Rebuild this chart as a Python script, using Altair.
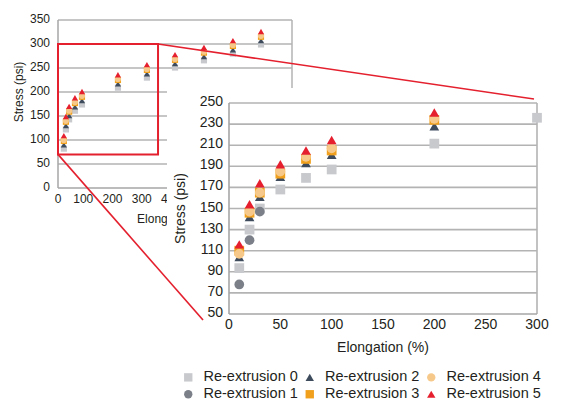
import altair as alt
import pandas as pd

FONT = "Liberation Sans"
TXT = "#231f20"

SERIES = ["Re-extrusion 0", "Re-extrusion 1", "Re-extrusion 2",
          "Re-extrusion 3", "Re-extrusion 4", "Re-extrusion 5"]
COLORS = ["#c8c9cd", "#7a7f88", "#3d4b5c", "#f0a01c", "#f6c98a", "#e61f2e"]
SHAPES = ["square", "circle", "triangle-up", "square", "circle", "triangle-up"]
LEGEND_ORDER = [0, 2, 4, 1, 3, 5]

# ---- overview chart (background) ----
BG_X = [20, 27, 38, 58, 82, 205, 304, 400, 499, 598, 694]
BG_S0 = [82, 122, 143, 161, 174, 209, 230, 251, 266, 280, 299]
BG_S2 = [90, 130, 151, 169, 182, 217, 238, 259, 274, 288, 307]
BG_S3 = [98, 138, 159, 177, 190, 225, 246, 267, 282, 296, 315]
BG_S4 = [100, 140, 161, 179, 192, 227, 248, 269, 284, 298, 317]
BG_S5 = [109, 149, 170, 188, 201, 236, 257, 278, 293, 307, 326]
BG_XTICKS = [0, 100, 200, 300, 400, 500, 600, 700, 800]
BG_YTICKS = [0, 50, 100, 150, 200, 250, 300, 350]
ZOOM_X = [0, 342]
ZOOM_Y = [70, 300]

# ---- zoomed chart (foreground) ----
FG_X = [10, 20, 30, 50, 75, 100, 200, 300]
FG_S0 = [93.5, 130, 150, 168, 179, 187, 211.5, 236]
FG_S1 = [78, 120, 147]
FG_S2 = [104, 142, 161, 180, 193, 201, 228]
FG_S3 = [110, 146, 165, 183, 197, 205, 234]
FG_S4 = [107, 147, 165, 185, 199, 207, 235]
FG_S5 = [116, 154, 174, 192, 205, 215, 241]
FG_XTICKS = [0, 50, 100, 150, 200, 250, 300]
FG_YTICKS = [50, 70, 90, 110, 130, 150, 170, 190, 210, 230, 250]

X_TITLE = "Elongation (%)"
Y_TITLE = "Stress (psi)"

# layout (pixel ranges inside the view)
W, H = 548, 392
BG_XR, BG_YR = [50, 284], [180, 12]
FG_XR, FG_YR = [221, 529], [306, 95]

fg_pairs = [(0, FG_S0), (1, FG_S1), (2, FG_S2), (3, FG_S3), (4, FG_S4), (5, FG_S5)]
bg_pairs = [(0, BG_S0), (2, BG_S2), (3, BG_S3), (4, BG_S4), (5, BG_S5)]


def frame(pairs, xs):
    rows = []
    for k, vals in pairs:
        for x, v in zip(xs, vals):
            rows.append({"x": x, "y": v, "series": SERIES[k], "k": k})
    return pd.DataFrame(rows)


fg_df = frame(fg_pairs, FG_X)
bg_df = frame(bg_pairs, BG_X)

bgx = alt.Scale(domain=[0, 800], range=BG_XR, nice=False, zero=False)
bgy = alt.Scale(domain=[0, 350], range=BG_YR, nice=False, zero=False)
fgx = alt.Scale(domain=[0, 300], range=FG_XR, nice=False, zero=False)
fgy = alt.Scale(domain=[50, 250], range=FG_YR, nice=False, zero=False)

color_scale = alt.Scale(domain=[SERIES[i] for i in LEGEND_ORDER],
                        range=[COLORS[i] for i in LEGEND_ORDER])
shape_scale = alt.Scale(domain=[SERIES[i] for i in LEGEND_ORDER],
                        range=[SHAPES[i] for i in LEGEND_ORDER])
legend = alt.Legend(orient="none", legendX=173, legendY=362, direction="horizontal",
                    columns=3, title=None, labelFontSize=14.5, labelFont=FONT,
                    labelColor=TXT, symbolSize=70, symbolStrokeWidth=0,
                    labelOffset=8, columnPadding=4.5, rowPadding=2, padding=0)

GRID = "#b3b3b3"
AX = "#a6a6a6"
RED = "#e4202e"


def one():
    return pd.DataFrame({"a": [0]})


def hgrid(vals, xs, ys, x0, x1, width):
    return alt.Chart(pd.DataFrame({"v": vals})).mark_rule(
        color=GRID, strokeWidth=width).encode(
        y=alt.Y("v:Q", scale=ys, axis=None),
        x=alt.X(datum=x0, scale=xs, axis=None), x2=alt.X2(datum=x1))


def vline(xs, ys, xv, y0, y1, color, width):
    return alt.Chart(one()).mark_rule(color=color, strokeWidth=width).encode(
        x=alt.X(datum=xv, scale=xs, axis=None),
        y=alt.Y(datum=y0, scale=ys, axis=None), y2=alt.Y2(datum=y1))


def hline(xs, ys, yv, x0, x1, color, width):
    return alt.Chart(one()).mark_rule(color=color, strokeWidth=width).encode(
        y=alt.Y(datum=yv, scale=ys, axis=None),
        x=alt.X(datum=x0, scale=xs, axis=None), x2=alt.X2(datum=x1))


def ylabels(vals, xs, ys, x0, size, pad):
    return alt.Chart(pd.DataFrame({"v": vals})).mark_text(
        align="right", baseline="middle", dx=-pad, dy=-1, fontSize=size,
        font=FONT, color=TXT).encode(
        x=alt.X(datum=x0, scale=xs, axis=None),
        y=alt.Y("v:Q", scale=ys, axis=None), text="v:Q")


def xlabels(vals, xs, ys, y0, size, pad, shift=0):
    return alt.Chart(pd.DataFrame({"v": vals})).mark_text(
        align="center", baseline="top", dy=pad, dx=shift, fontSize=size,
        font=FONT, color=TXT).encode(
        y=alt.Y(datum=y0, scale=ys, axis=None),
        x=alt.X("v:Q", scale=xs, axis=None), text="v:Q")


def points(df, xs, ys, size):
    return alt.Chart(df).mark_point(filled=True, opacity=1, size=size).encode(
        x=alt.X("x:Q", scale=xs, axis=None),
        y=alt.Y("y:Q", scale=ys, axis=None),
        color=alt.Color("series:N", scale=color_scale, legend=legend),
        shape=alt.Shape("series:N", scale=shape_scale, legend=legend),
        order=alt.Order("k:Q"))


# ---------- background (overview) ----------
bg_xtitle = alt.Chart(one()).mark_text(fontSize=12, font=FONT, color=TXT,
                                       baseline="middle", dy=31).encode(
    x=alt.X(datum=405, scale=bgx, axis=None), y=alt.Y(datum=0, scale=bgy, axis=None),
    text=alt.value(X_TITLE))
bg_ytitle = alt.Chart(one()).mark_text(fontSize=12, font=FONT, color=TXT,
                                       baseline="middle", angle=270).encode(
    x=alt.value(11), y=alt.Y(datum=200, scale=bgy, axis=None),
    text=alt.value(Y_TITLE))
bg_rect = alt.Chart(pd.DataFrame({"x": [ZOOM_X[0]], "x2": [ZOOM_X[1]],
                                  "y": [ZOOM_Y[0]], "y2": [ZOOM_Y[1]]})).mark_rect(
    fillOpacity=0, stroke=RED, strokeWidth=2).encode(
    x=alt.X("x:Q", scale=bgx, axis=None), x2="x2:Q",
    y=alt.Y("y:Q", scale=bgy, axis=None), y2="y2:Q")
bg = alt.layer(
    hgrid(BG_YTICKS[1:], bgx, bgy, 0, 800, 1.5),
    vline(bgx, bgy, 800, 0, 350, GRID, 1.5),
    vline(bgx, bgy, 0, 0, 350, AX, 1.5),
    hline(bgx, bgy, 0, 0, 800, AX, 1.5),
    ylabels(BG_YTICKS, bgx, bgy, 0, 12, 8),
    xlabels(BG_XTICKS[:1], bgx, bgy, 0, 12, 6),
    xlabels(BG_XTICKS[1:], bgx, bgy, 0, 12, 6, shift=-4),
    bg_xtitle, bg_ytitle,
    points(bg_df, bgx, bgy, 38),
    bg_rect)

# ---------- foreground (zoom) ----------
panel = alt.Chart(one()).mark_rect(color="white").encode(
    x=alt.value(159), x2=alt.value(W), y=alt.value(80), y2=alt.value(H))
fg_xtitle = alt.Chart(one()).mark_text(fontSize=14, font=FONT, color=TXT,
                                       baseline="middle", dy=34).encode(
    x=alt.X(datum=150, scale=fgx, axis=None), y=alt.Y(datum=50, scale=fgy, axis=None),
    text=alt.value(X_TITLE))
fg_ytitle = alt.Chart(one()).mark_text(fontSize=14, font=FONT, color=TXT,
                                       baseline="middle", angle=270).encode(
    x=alt.value(173), y=alt.Y(datum=150, scale=fgy, axis=None),
    text=alt.value(Y_TITLE))
fg = alt.layer(
    panel,
    hgrid(FG_YTICKS[1:], fgx, fgy, 0, 300, 1.6),
    vline(fgx, fgy, 300, 50, 250, GRID, 1.6),
    vline(fgx, fgy, 0, 50, 250, AX, 1.6),
    hline(fgx, fgy, 50, 0, 300, AX, 1.6),
    ylabels(FG_YTICKS, fgx, fgy, 0, 14, 6),
    xlabels(FG_XTICKS, fgx, fgy, 50, 14, 4),
    fg_xtitle, fg_ytitle,
    points(fg_df, fgx, fgy, 95))

# ---------- connector lines (on top) ----------
conn_top = alt.Chart(pd.DataFrame({"x": [ZOOM_X[1]], "y": [ZOOM_Y[1]]})).mark_rule(
    color=RED, strokeWidth=1.6).encode(
    x=alt.X("x:Q", scale=bgx, axis=None), y=alt.Y("y:Q", scale=bgy, axis=None),
    x2=alt.value(526), y2=alt.value(91))
conn_bot = alt.Chart(pd.DataFrame({"x": [ZOOM_X[0]], "y": [ZOOM_Y[0]]})).mark_rule(
    color=RED, strokeWidth=1.6).encode(
    x=alt.X("x:Q", scale=bgx, axis=None), y=alt.Y("y:Q", scale=bgy, axis=None),
    x2=alt.value(195), y2=alt.value(312))
conn = alt.layer(conn_top, conn_bot)

chart = alt.layer(bg, fg, conn).resolve_scale(
    x="independent", y="independent").properties(
    width=W, height=H, autosize=alt.AutoSizeParams(type="none"), padding=0
).configure(font=FONT, background="white").configure_view(strokeWidth=0)

chart.save("out.html", embed_options={"renderer": "svg", "actions": False})
